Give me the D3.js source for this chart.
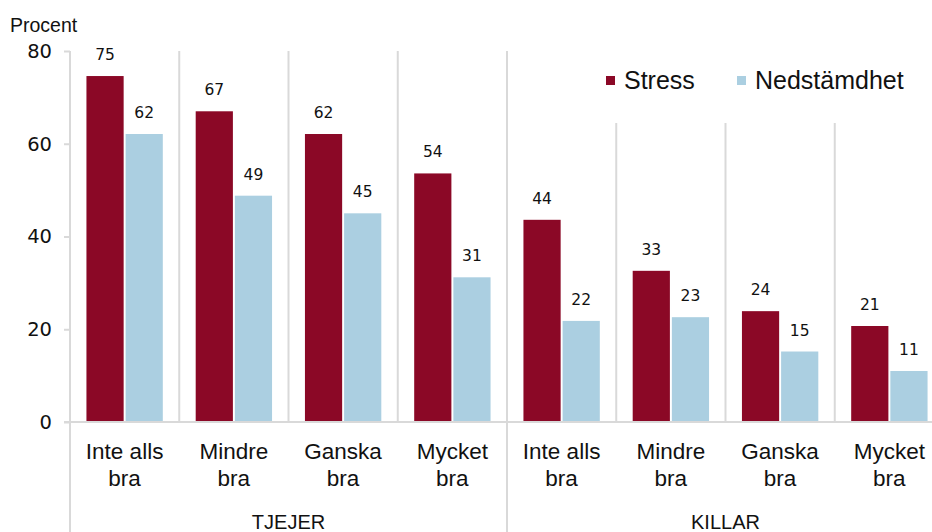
<!DOCTYPE html>
<html>
<head>
<meta charset="utf-8">
<script src="https://cdn.jsdelivr.net/npm/d3@7"></script>
<style>
  html, body { margin: 0; padding: 0; background: #fff; }
  svg { display: block; font-family: "Liberation Sans", Arial, sans-serif; }
</style>
</head>
<body>
<svg id="viz" width="932" height="532"></svg>
<script>
(function () {
  "use strict";

  // Data
  const groups = ["TJEJER", "KILLAR"];
  const levels = [["Inte alls", "bra"], ["Mindre", "bra"], ["Ganska", "bra"], ["Mycket", "bra"]];
  const series = ["Stress", "Nedstämdhet"];
  const stress = [74.6, 67.0, 62.1, 53.6, 43.6, 32.6, 23.9, 20.7];
  const nedstamdhet = [62.1, 48.8, 45.0, 31.2, 21.8, 22.6, 15.2, 11.0];
  const yTicks = [0, 20, 40, 60, 80];

  const colors = { "Stress": "#8b0826", "Nedstämdhet": "#abcfe1" };
  const grid = "#d9d9d9";

  // Layout
  const margin = { top: 51, left: 70, right: -12, bottom: 110 };
  const W = 932, H = 532;

  // one row per bar group
  let rows = [];
  groups.forEach(function (g, gi) {
    levels.forEach(function (l, li) {
      let i = gi * levels.length + li;
      rows.push({ key: g + i, group: g, lines: l, Stress: stress[i], "Nedstämdhet": nedstamdhet[i] });
    });
  });

  // Scales
  let x0 = d3.scaleBand()
    .domain(rows.map(d => d.key))
    .range([margin.left, W - margin.right]);

  let x1 = d3.scaleBand()
    .domain(series)
    .range([0, x0.bandwidth()])
    .paddingInner(0.05)
    .paddingOuter(0.42);

  let y = d3.scaleLinear()
    .domain([0, 80])
    .range([H - margin.bottom, margin.top]);

  let svg = d3.select("#viz");

  // Separator lines between categories
  svg.append("g")
    .selectAll("line")
    .data(rows.slice(1))
    .enter()
    .append("line")
    .attr("x1", d => x0(d.key))
    .attr("x2", d => x0(d.key))
    .attr("y1", y(80))
    .attr("y2", (d, i) => (i + 1) % levels.length === 0 ? H : y(0))
    .attr("stroke", grid)
    .attr("stroke-width", 2);

  // Y axis
  let yAxis = svg.append("g")
    .attr("transform", `translate(${margin.left},0)`)
    .call(d3.axisLeft(y).tickValues(yTicks).tickSize(6).tickPadding(12));
  yAxis.select(".domain").remove();
  yAxis.selectAll(".tick line").attr("stroke", grid).attr("stroke-width", 2);
  yAxis.selectAll(".tick text")
    .attr("font-size", 19.5)
    .attr("fill", "#111")
    .attr("font-family", "'DejaVu Sans', sans-serif");

  // vertical axis line, runs to the bottom
  svg.append("line")
    .attr("x1", margin.left).attr("x2", margin.left)
    .attr("y1", y(80)).attr("y2", H)
    .attr("stroke", grid).attr("stroke-width", 2);

  // Bars
  let cat = svg.append("g")
    .selectAll(".cat")
    .data(rows)
    .enter()
    .append("g")
    .attr("transform", d => `translate(${x0(d.key)},0)`);

  cat.selectAll("rect")
    .data(d => series.map(s => ({ s: s, v: d[s] })))
    .enter()
    .append("rect")
    .attr("x", d => x1(d.s))
    .attr("y", d => y(d.v))
    .attr("width", x1.bandwidth())
    .attr("height", d => y(0) - y(d.v))
    .attr("fill", d => colors[d.s]);

  cat.selectAll(".val")
    .data(d => series.map(s => ({ s: s, v: d[s] })))
    .enter()
    .append("text")
    .attr("x", d => x1(d.s) + x1.bandwidth() / 2)
    .attr("y", d => y(d.v) - 16)
    .attr("text-anchor", "middle")
    .attr("font-size", 15.5)
    .attr("font-family", "'DejaVu Sans', sans-serif")
    .attr("fill", "#111")
    .text(d => d3.format(".0f")(d.v));

  // x axis line
  svg.append("line")
    .attr("x1", margin.left - 6).attr("x2", W)
    .attr("y1", y(0)).attr("y2", y(0))
    .attr("stroke", grid).attr("stroke-width", 2);

  // Category labels
  cat.append("text")
    .attr("x", x0.bandwidth() / 2)
    .attr("text-anchor", "middle")
    .attr("font-size", 22.5)
    .attr("fill", "#111")
    .selectAll("tspan")
    .data(d => d.lines)
    .enter()
    .append("tspan")
    .attr("x", x0.bandwidth() / 2)
    .attr("y", (d, i) => 459 + i * 27)
    .text(d => d);

  // Group labels
  svg.append("g")
    .selectAll("text")
    .data(groups)
    .enter()
    .append("text")
    .attr("x", (g, gi) => {
      let first = rows[gi * levels.length].key;
      let last = rows[gi * levels.length + levels.length - 1].key;
      return (x0(first) + x0(last) + x0.bandwidth()) / 2;
    })
    .attr("y", 529)
    .attr("text-anchor", "middle")
    .attr("font-size", 20)
    .attr("fill", "#111")
    .text(d => d);

  // Unit label
  svg.append("text")
    .attr("x", 10)
    .attr("y", 32)
    .attr("font-size", 19.5)
    .attr("fill", "#111")
    .text("Procent");

  // Legend, with a white box that hides the separators behind it
  svg.append("rect")
    .attr("x", 595).attr("y", y(80) - 2)
    .attr("width", W - 595).attr("height", 123 - y(80) + 2)
    .attr("fill", "#fff");

  let legendX = [606, 737];
  let legend = svg.append("g")
    .selectAll("g")
    .data(series)
    .enter()
    .append("g")
    .attr("transform", (d, i) => `translate(${legendX[i]},76)`);

  legend.append("rect")
    .attr("width", 9).attr("height", 9)
    .attr("fill", d => colors[d]);

  legend.append("text")
    .attr("x", 18)
    .attr("y", 13)
    .attr("font-size", 25)
    .attr("fill", "#111")
    .text(d => d);
})();
</script>
</body>
</html>
